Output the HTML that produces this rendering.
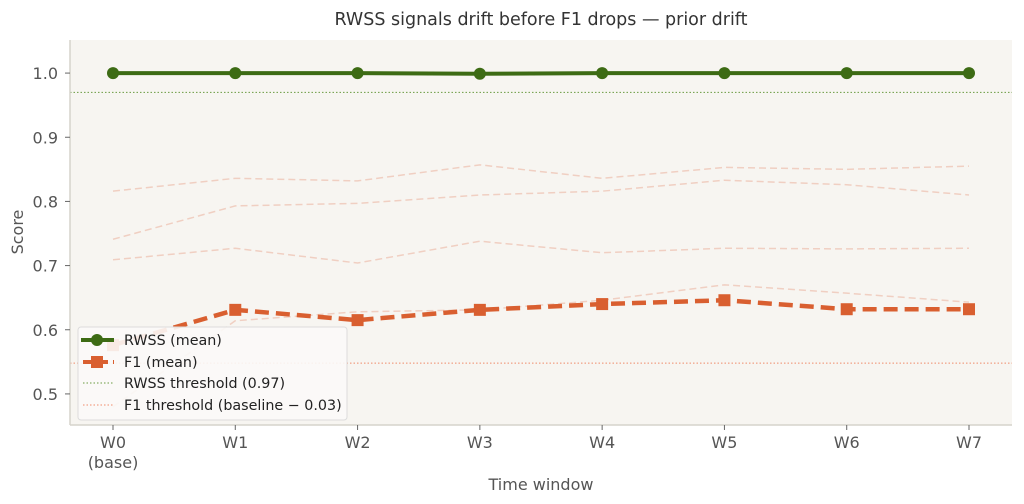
<!DOCTYPE html>
<html><head><meta charset="utf-8"><style>
html,body{margin:0;padding:0;background:#fff;}
svg{display:block;font-family:"DejaVu Sans","Liberation Sans",sans-serif;}
</style></head><body>
<svg id="chart" width="1024" height="504" viewBox="0 0 1024 504">
<rect x="0" y="0" width="1024" height="504" fill="#ffffff"/>
<text x="541" y="25" text-anchor="middle" font-size="17.5" fill="#333">RWSS signals drift before F1 drops — prior drift</text>
<rect x="70" y="40" width="942" height="385" fill="#f7f5f1"/>
<g id="bg"></g>
<g id="marks"></g>
<line x1="70" y1="40" x2="70" y2="425" stroke="#d6d3cc" stroke-width="1.5"/>
<line x1="70" y1="425" x2="1012" y2="425" stroke="#d6d3cc" stroke-width="1.5"/>
<text x="23" y="232" text-anchor="middle" font-size="16" fill="#555" transform="rotate(-90 23 232)">Score</text>
<text x="541" y="490" text-anchor="middle" font-size="16" fill="#555">Time window</text>
<g>
<rect x="78" y="327" width="269" height="93" rx="3" fill="#fbfaf8" fill-opacity="0.9" stroke="#dcdcdc"/>
<g>
<line x1="81" y1="340" x2="114" y2="340" stroke="#3d6b14" stroke-width="4"/><circle cx="97" cy="340" r="6" fill="#3d6b14"/>
<text x="124" y="345" font-size="14.3" fill="#222">RWSS (mean)</text></g>
<g>
<line x1="83" y1="362" x2="114" y2="362" stroke="#d95f30" stroke-width="4" stroke-dasharray="10,5"/><rect x="91" y="356" width="12" height="12" fill="#d95f30"/>
<text x="124" y="367" font-size="14.3" fill="#222">F1 (mean)</text></g>
<g>
<line x1="83" y1="383" x2="114" y2="383" stroke="#6a9a40" stroke-width="1" stroke-dasharray="1.5,2"/>
<text x="124" y="388" font-size="14.3" fill="#222">RWSS threshold (0.97)</text></g>
<g>
<line x1="83" y1="405" x2="114" y2="405" stroke="#f08a6a" stroke-width="1" stroke-dasharray="1.5,2"/>
<text x="124" y="410" font-size="14.3" fill="#222">F1 threshold (baseline − 0.03)</text></g>
</g>
</svg>
<script>
const categories=["W0","W1","W2","W3","W4","W5","W6","W7"];
const rwssMean=[1.0,1.0,1.0,0.999,1.0,1.0,1.0,1.0];
const f1Mean=[0.576,0.631,0.615,0.631,0.640,0.646,0.632,0.632];
const f1RunA=[0.816,0.836,0.832,0.857,0.836,0.853,0.850,0.855];
const f1RunB=[0.741,0.793,0.797,0.810,0.816,0.833,0.826,0.810];
const f1RunC=[0.709,0.727,0.704,0.738,0.720,0.727,0.726,0.727];
const f1RunD=[0.48,0.614,0.628,0.631,0.646,0.670,0.657,0.643];
const rwssThreshold=0.97;
const f1Threshold=0.548;
const yTicks=[0.5,0.6,0.7,0.8,0.9,1.0];
const yTickLabels=["0.5","0.6","0.7","0.8","0.9","1.0"];
const yMin=0.45,yMax=1.05;
const NS="http://www.w3.org/2000/svg";
function xs(i){return 113+i*(969-113)/(categories.length-1);}
function ys(v){return 426-(v-yMin)/(yMax-yMin)*385;}
function mk(t,a,p){const e=document.createElementNS(NS,t);for(const k in a)e.setAttribute(k,a[k]);p.appendChild(e);return e;}
const svg=document.getElementById('chart');
const bg=document.getElementById('bg');
const marks=document.getElementById('marks');
yTicks.forEach((v,i)=>{
  const t=mk('line',{x1:65,x2:70,y1:ys(v),y2:ys(v),stroke:'#666'},svg);
  
  
  const l=mk('text',{x:58,y:ys(v)+6,'text-anchor':'end','font-size':16,fill:'#555'},svg);
  l.textContent=yTickLabels[i];
  
  
});
categories.forEach((c,i)=>{
  const t=mk('line',{x1:xs(i),x2:xs(i),y1:425,y2:430,stroke:'#666'},svg);
  
  
  const l=mk('text',{x:xs(i),y:448,'text-anchor':'middle','font-size':16,fill:'#555'},svg);
  l.textContent=c;
  
  
  if(i===0){const l2=mk('text',{x:xs(i),y:468,'text-anchor':'middle','font-size':16,fill:'#555'},svg);l2.textContent="(base)";
  
  }
});
function pts(arr){return arr.map((v,i)=>xs(i)+','+ys(v)).join(' ');}
[f1RunA,f1RunB,f1RunC,f1RunD].forEach((r,k)=>{
  const p=mk('polyline',{points:pts(r),fill:'none',stroke:'#f0cfc2','stroke-width':1.5,'stroke-dasharray':'7,4'},bg);
  
  
});
const th1=mk('line',{x1:70,x2:1012,y1:ys(rwssThreshold),y2:ys(rwssThreshold),stroke:'#6a9a40','stroke-width':1,'stroke-dasharray':'1.5,2'},bg);


const th2=mk('line',{x1:70,x2:1012,y1:ys(f1Threshold),y2:ys(f1Threshold),stroke:'#f08a6a','stroke-width':1,'stroke-dasharray':'1.5,2'},bg);


const rl=mk('polyline',{points:pts(rwssMean),fill:'none',stroke:'#3d6b14','stroke-width':4},marks);


rwssMean.forEach((v,i)=>{const c=mk('circle',{cx:xs(i),cy:ys(v),r:6,fill:'#3d6b14'},marks);

});
const fl=mk('polyline',{points:pts(f1Mean),fill:'none',stroke:'#d95f30','stroke-width':4.5,'stroke-dasharray':'14,7'},marks);


f1Mean.forEach((v,i)=>{const r=mk('rect',{x:xs(i)-6,y:ys(v)-6,width:12,height:12,fill:'#d95f30'},marks);

});
</script>
</body></html>
